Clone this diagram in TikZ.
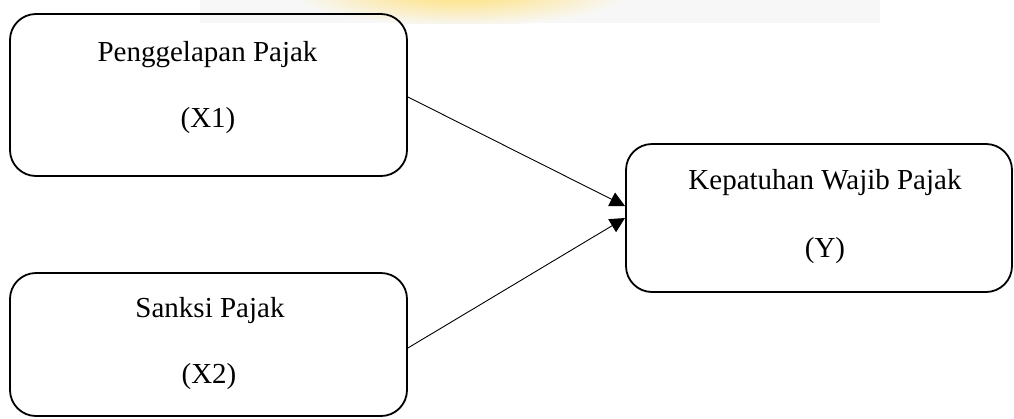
\documentclass[tikz,border=0pt]{standalone}
\usepackage{fontspec}
\setmainfont{Liberation Serif}
\usetikzlibrary{arrows.meta}
\begin{document}
\begin{tikzpicture}[x=1pt,y=-1pt,
  varbox/.style={draw=black,line width=1.8pt,rounded corners=26pt,minimum width=#1,inner sep=0pt},
  lbl/.style={font=\fontsize{29}{33}\selectfont,inner sep=0pt,anchor=base},
  link/.style={line width=0.9pt,-{Triangle[length=15pt,width=15pt]}}]
\useasboundingbox (0,0) rectangle (1014,418);
% faint watermark at top
\begin{scope}
\clip (0,0) rectangle (1014,23);
\fill[black!3] (200,0) rectangle (880,23);
\shade[inner color=yellow!55!orange!55, outer color=black!3] (460,-8) ellipse (170 and 34);
\end{scope}
\node[varbox=397pt,minimum height=162pt] (x1) at (208.5,95) {};
\node[varbox=397pt,minimum height=143pt] (x2) at (208.5,344.5) {};
\node[varbox=386pt,minimum height=148pt] (y) at (819,218) {};
\node[lbl] (x1a) at (207.5,61) {Penggelapan Pajak};
\node[lbl] (x1b) at (208,127) {(X1)};
\node[lbl] (x2a) at (210,317) {Sanksi Pajak};
\node[lbl] (x2b) at (209,383) {(X2)};
\node[lbl] (ya) at (825,189) {Kepatuhan Wajib Pajak};
\node[lbl] (yb) at (825,257) {(Y)};
\coordinate (t1) at (625,206);
\coordinate (t2) at (625,218);
\draw[link] (x1.east|-0,97) -- (t1);
\draw[link] (x2.east|-0,348) -- (t2);
\end{tikzpicture}
\end{document}
